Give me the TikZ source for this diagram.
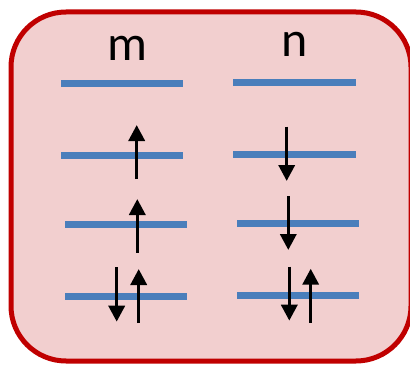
\documentclass[tikz,border=0pt]{standalone}
\usepackage{fontspec}
\setmainfont{Carlito}
\usetikzlibrary{arrows.meta}
\definecolor{boxfill}{HTML}{F2CFCF}
\definecolor{boxline}{HTML}{C00000}
\definecolor{level}{HTML}{4A7EBB}
\tikzset{
  panel/.style={draw=boxline, fill=boxfill, line width=5pt, rounded corners=55pt},
  lvl/.style={draw=level, line width=7pt},
  spin/.style={draw=black, line width=3.5pt, -{Triangle[width=16pt,length=16pt]}},
  lab/.style={font=\fontsize{50}{60}\selectfont, anchor=base, inner sep=0pt}
}
\begin{document}
\begin{tikzpicture}[x=1pt,y=1pt]
\useasboundingbox (0,0) rectangle (410,365);
\draw[panel] (11,4) rectangle (411,353);
\node[lab] (m) at (127.7,304.3) {m};
\node[lab] (n) at (295,308) {n};
% m levels
\coordinate (m1a) at (61,281.5);  \coordinate (m1b) at (183,281.5);
\coordinate (m2a) at (61,210);    \coordinate (m2b) at (183,210);
\coordinate (m3a) at (65,140.5);  \coordinate (m3b) at (187,140.5);
\coordinate (m4a) at (65,69);     \coordinate (m4b) at (187,69);
\draw[lvl] (m1a) -- (m1b);
\draw[lvl] (m2a) -- (m2b);
\draw[lvl] (m3a) -- (m3b);
\draw[lvl] (m4a) -- (m4b);
% n levels
\coordinate (n1a) at (233,282.3); \coordinate (n1b) at (356,282.3);
\coordinate (n2a) at (233,210.7); \coordinate (n2b) at (356,210.7);
\coordinate (n3a) at (237,141.7); \coordinate (n3b) at (359,141.7);
\coordinate (n4a) at (237,69.7);  \coordinate (n4b) at (359,69.7);
\draw[lvl] (n1a) -- (n1b);
\draw[lvl] (n2a) -- (n2b);
\draw[lvl] (n3a) -- (n3b);
\draw[lvl] (n4a) -- (n4b);
% spins m
\coordinate (s1a) at (136.7,186);   \coordinate (s1b) at (136.7,240);
\coordinate (s2a) at (137.3,112.3); \coordinate (s2b) at (137.3,166);
\coordinate (s3a) at (116.7,98);    \coordinate (s3b) at (116.7,43.3);
\coordinate (s4a) at (138.7,42);    \coordinate (s4b) at (138.7,96);
\draw[spin] (s1a) -- (s1b);
\draw[spin] (s2a) -- (s2b);
\draw[spin] (s3a) -- (s3b);
\draw[spin] (s4a) -- (s4b);
% spins n
\coordinate (t1a) at (286.7,238.3); \coordinate (t1b) at (286.7,184);
\coordinate (t2a) at (288.3,169);   \coordinate (t2b) at (288.3,115);
\coordinate (t3a) at (289.3,98.3);  \coordinate (t3b) at (289.3,44.3);
\coordinate (t4a) at (310.7,42.3);  \coordinate (t4b) at (310.7,96.3);
\draw[spin] (t1a) -- (t1b);
\draw[spin] (t2a) -- (t2b);
\draw[spin] (t3a) -- (t3b);
\draw[spin] (t4a) -- (t4b);
\end{tikzpicture}
\end{document}
